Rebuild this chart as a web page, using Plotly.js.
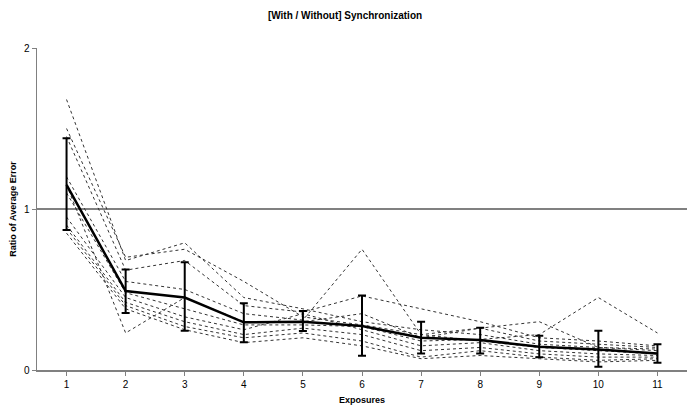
<!DOCTYPE html>
<html>
<head>
<meta charset="utf-8">
<script src="https://cdn.plot.ly/plotly-3.0.1.min.js"></script>
<style>html,body{margin:0;padding:0;background:#fff;}#chart{width:690px;height:409px;}</style>
</head>
<body>
<div id="chart"></div>
<script>
const exposures = [1,2,3,4,5,6,7,8,9,10,11];

const s1  = [1.68,0.68,0.79,0.45,0.38,0.30,0.25,0.22,0.16,0.14,0.13];
const s2  = [1.50,0.70,0.75,0.55,0.33,0.28,0.22,0.18,0.14,0.12,0.10];
const s3  = [1.45,0.62,0.68,0.40,0.36,0.46,0.38,0.30,0.20,0.18,0.15];
const s4  = [1.20,0.55,0.50,0.35,0.31,0.75,0.22,0.26,0.18,0.16,0.14];
const s5  = [1.15,0.23,0.45,0.30,0.30,0.35,0.20,0.26,0.30,0.14,0.12];
const s6  = [1.10,0.48,0.38,0.28,0.28,0.27,0.18,0.19,0.22,0.45,0.23];
const s7  = [0.95,0.45,0.33,0.25,0.35,0.25,0.15,0.17,0.12,0.10,0.09];
const s8  = [0.90,0.42,0.30,0.22,0.26,0.22,0.12,0.14,0.10,0.08,0.08];
const s9  = [0.88,0.40,0.27,0.20,0.23,0.18,0.08,0.12,0.08,0.06,0.07];
const s10 = [0.85,0.38,0.25,0.17,0.20,0.15,0.07,0.09,0.07,0.05,0.06];

const meanRatio = [1.15,0.49,0.45,0.296,0.30,0.273,0.20,0.186,0.145,0.128,0.103];
const errPlus   = [0.29,0.135,0.22,0.118,0.066,0.19,0.10,0.077,0.068,0.116,0.057];
const errMinus  = [0.28,0.136,0.206,0.124,0.058,0.184,0.097,0.083,0.066,0.108,0.058];

const series = [s1,s2,s3,s4,s5,s6,s7,s8,s9,s10];
const traces = series.map(s => ({
  x: exposures, y: s, type: 'scatter', mode: 'lines',
  line: {color: '#333333', width: 1, dash: '3px,3px'},
  hoverinfo: 'skip', showlegend: false
}));
traces.push({
  x: exposures, y: meanRatio, type: 'scatter', mode: 'lines',
  line: {color: '#000000', width: 2.5},
  error_y: {type: 'data', symmetric: false, array: errPlus, arrayminus: errMinus,
            color: '#000000', thickness: 2, width: 4},
  showlegend: false
});

const layout = {
  width: 690, height: 409,
  margin: {l: 37, r: 3, t: 48, b: 39},
  paper_bgcolor: '#ffffff', plot_bgcolor: '#ffffff',
  font: {family: 'Liberation Sans, Arial, sans-serif', size: 10, color: '#000'},
  title: {text: '<b>[With / Without] Synchronization</b>', x: 0.5, xanchor: 'center',
          y: 1 - 15/409, yanchor: 'middle', font: {size: 10, color: '#000'}},
  xaxis: {
    range: [0.5, 11.5], tickmode: 'array', tickvals: exposures, ticktext: exposures.map(String),
    showgrid: false, zeroline: false, showline: true, linecolor: '#808080', linewidth: 1.5,
    ticks: 'outside', ticklen: 4, tickcolor: '#808080', tickson: 'boundaries',
    tickfont: {size: 10},
    title: {text: '<b>Exposures</b>', font: {size: 9}, standoff: 8},
    fixedrange: true
  },
  yaxis: {
    range: [0, 2], tickvals: [0,1,2], ticktext: ['0','1','2'],
    showgrid: true, gridcolor: '#808080', gridwidth: 1.5,
    zeroline: false, showline: true, linecolor: '#808080', linewidth: 1.5,
    ticks: 'outside', ticklen: 4, tickcolor: '#808080',
    tickfont: {size: 10},
    title: {text: '<b>Ratio of Average Error</b>', font: {size: 9}, standoff: 6},
    fixedrange: true
  }
};

Plotly.newPlot('chart', traces, layout, {staticPlot: true, displayModeBar: false});
</script>
</body>
</html>
